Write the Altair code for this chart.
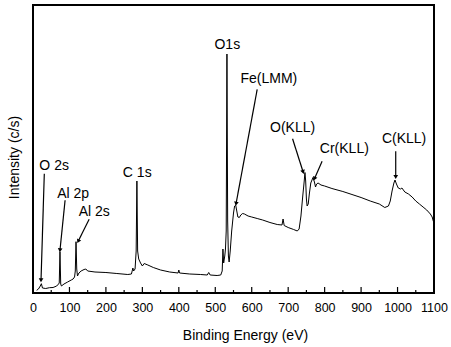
import math
import altair as alt
import pandas as pd

# ---- spectrum (binding energy eV, intensity c/s, arbitrary scale) ----
energy = [10, 15, 20, 23, 26, 35, 45, 55, 65, 70, 72, 74, 76, 78, 85, 95, 105, 110,
          114, 116, 118, 120, 122, 126, 132, 140, 145, 150, 170, 200, 230, 260, 270,
          274, 276, 280, 283, 285, 287, 290, 295, 300, 305, 315, 330, 350, 375, 398,
          400, 402, 430, 460, 478, 482, 486, 505, 515, 519, 521, 523, 526, 528, 530,
          532, 534, 536, 538, 541, 545, 550, 553, 556, 559, 562, 566, 570, 575, 580,
          590, 600, 615, 630, 650, 670, 683, 686, 689, 700, 715, 725, 730, 735, 740,
          744, 746, 748, 750, 752, 755, 758, 762, 768, 772, 775, 778, 782, 790, 800,
          820, 850, 875, 900, 925, 950, 965, 975, 980, 985, 990, 993, 997, 1002, 1008,
          1012, 1020, 1030, 1040, 1050, 1060, 1070, 1080, 1090, 1095, 1098, 1100]
intensity = [27, 40, 70, 93, 50, 45, 53, 55, 70, 90, 100, 413, 90, 70, 90, 110, 130, 140,
             160, 220, 513, 240, 170, 200, 220, 235, 240, 220, 210, 205, 195, 185, 190,
             250, 220, 240, 420, 1120, 420, 340, 300, 270, 295, 280, 255, 230, 210, 200,
             230, 200, 190, 185, 180, 205, 180, 175, 180, 220, 440, 300, 370, 440, 620,
             2390, 720, 370, 310, 420, 620, 800, 870, 880, 820, 760, 755, 780, 795, 790,
             770, 760, 745, 730, 705, 685, 680, 740, 675, 655, 635, 620, 640, 770, 970,
             1120, 1205, 1120, 940, 870, 890, 990, 1100, 1155, 1110, 1060, 1090, 1100,
             1080, 1070, 1045, 1015, 985, 955, 920, 890, 855, 870, 920, 1020, 1100, 1130,
             1090, 1050, 1040, 1050, 1010, 990, 960, 920, 890, 860, 830, 790, 760, 720, 700]

# ---- peak labels ----
label_text = ["O 2s", "Al 2p", "Al 2s", "C 1s", "O1s", "Fe(LMM)", "O(KLL)", "Cr(KLL)", "C(KLL)"]
label_x = [58, 110, 168, 286, 533, 647, 712, 854, 1018]
label_y = [1270, 993, 810, 1203, 2477, 2137, 1650, 1443, 1543]

# ---- arrows (start -> tip) ----
arrow_x1 = [31, 88, 154, 615, 712, 793, 995]
arrow_y1 = [1193, 927, 737, 2037, 1543, 1317, 1417]
arrow_x2 = [22, 74, 124, 557, 741, 772, 995]
arrow_y2 = [127, 427, 517, 893, 1210, 1143, 1160]

major_ticks = list(range(0, 1101, 100))
minor_ticks = list(range(50, 1100, 100))

W, H = 401, 288
XMAX, YMAX = 1100, 2880
FONT = "Liberation Sans"

spec = pd.DataFrame({"E": energy, "I": intensity})
labels = pd.DataFrame({"t": label_text, "E": label_x, "I": label_y})

# arrowhead angles computed in screen space
ang = []
for x1, y1, x2, y2 in zip(arrow_x1, arrow_y1, arrow_x2, arrow_y2):
    dx = (x2 - x1) * W / XMAX
    dy = -(y2 - y1) * H / YMAX
    ang.append((math.degrees(math.atan2(dx, -dy)) + 360) % 360)
arrows = pd.DataFrame({"x1": arrow_x1, "y1": arrow_y1, "x2": arrow_x2, "y2": arrow_y2, "ang": ang})

xs = alt.Scale(domain=[0, XMAX], nice=False, zero=False)
ys = alt.Scale(domain=[0, YMAX], nice=False)

xaxis = alt.Axis(title="Binding Energy (eV)", values=major_ticks, format="d",
                 ticks=False, domain=False, grid=False, labelFont=FONT,
                 labelFontSize=12.5, labelColor="black", labelPadding=8,
                 labelOverlap=False, labelFlush=False, labelBound=False,
                 titleFont=FONT, titleFontSize=14, titleFontWeight="normal",
                 titleColor="black", titleX=212, titleY=46,
                 titleBaseline="alphabetic")
yaxis = alt.Axis(title="Intensity (c/s)", labels=False, ticks=False, domain=False,
                 grid=False, titleFont=FONT, titleFontSize=14,
                 titleFontWeight="normal", titleColor="black", titleAngle=-90,
                 titleX=-15, titleY=152, titleAlign="center",
                 titleBaseline="alphabetic")


def X(f):
    return alt.X(f, scale=xs, axis=xaxis, title="Binding Energy (eV)")


def Y(f):
    return alt.Y(f, scale=ys, axis=yaxis, title="Intensity (c/s)")


line = alt.Chart(spec).mark_line(color="black", strokeWidth=1, interpolate="linear").encode(
    x=X("E:Q"), y=Y("I:Q"))

major = alt.Chart(pd.DataFrame({"E": major_ticks})).mark_rule(color="black", strokeWidth=1.2).encode(
    x=X("E:Q"), y=alt.value(H), y2=alt.value(H - 6))
minor = alt.Chart(pd.DataFrame({"E": minor_ticks})).mark_rule(color="black", strokeWidth=1.2).encode(
    x=X("E:Q"), y=alt.value(H), y2=alt.value(H - 3))

frame = alt.Chart(pd.DataFrame({"k": [0]})).mark_rect(fill=None, stroke="black", strokeWidth=2,
                                                       fillOpacity=0).encode(
    x=alt.value(0), x2=alt.value(W), y=alt.value(0), y2=alt.value(H))

text = alt.Chart(labels).mark_text(font=FONT, fontSize=14, color="black", baseline="middle",
                                    align="center").encode(
    x=X("E:Q"), y=Y("I:Q"), text="t:N")

shafts = alt.Chart(arrows).mark_rule(color="black", strokeWidth=1.2).encode(
    x=X("x1:Q"), y=Y("y1:Q"), x2="x2:Q", y2="y2:Q")

heads = alt.Chart(arrows).mark_point(shape="triangle-up", filled=True, color="black",
                                     size=22, opacity=1).encode(
    x=X("x2:Q"), y=Y("y2:Q"), angle=alt.Angle("ang:Q", scale=None))

chart = alt.layer(line, major, minor, frame, shafts, heads, text).properties(
    width=W, height=H,
    autosize=alt.AutoSizeParams(type="none"),
    padding={"left": 33, "top": 5, "right": 17, "bottom": 54},
).configure_view(strokeWidth=0).configure(background="white")

chart.save("out.html", embed_options={"renderer": "svg", "actions": False})
